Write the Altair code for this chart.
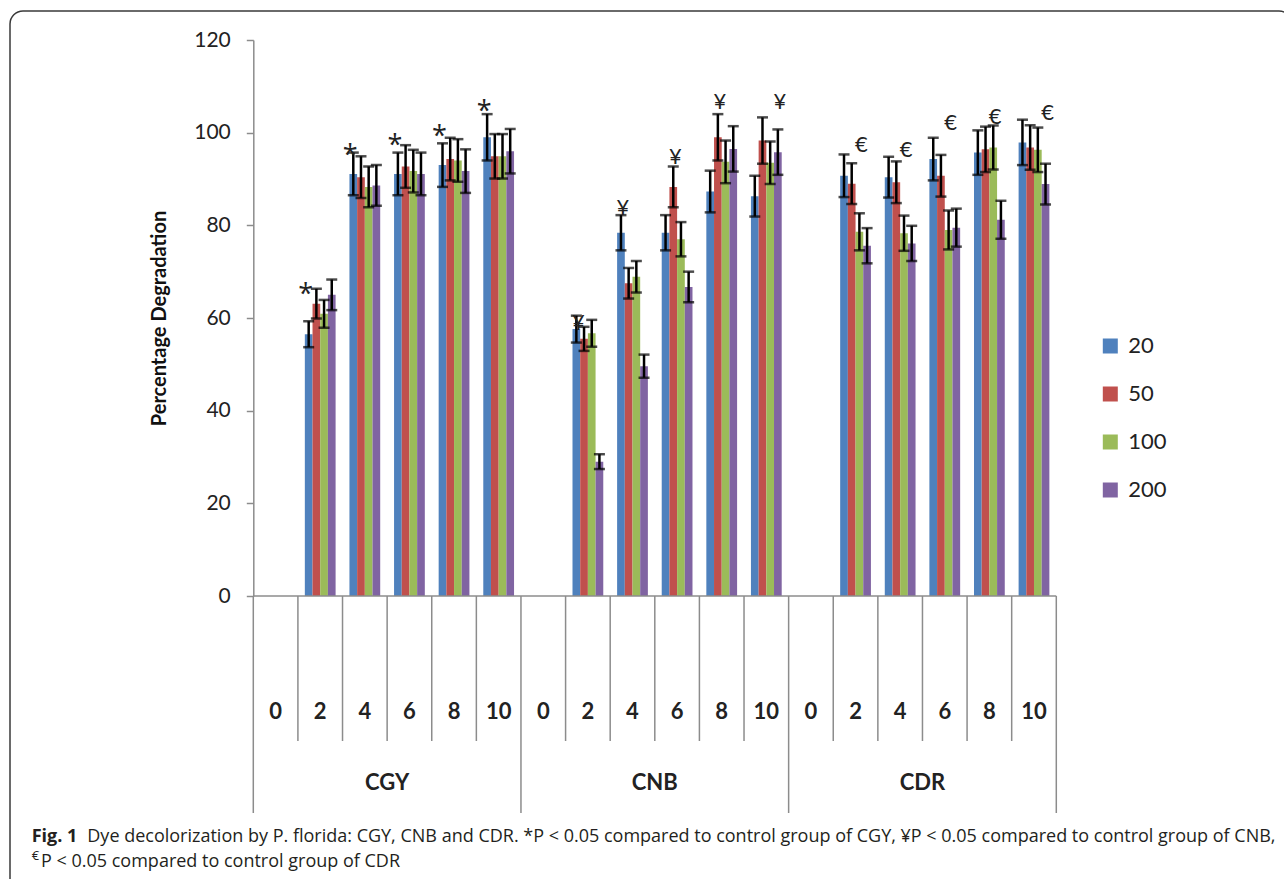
import altair as alt
import pandas as pd

# ---------------------------------------------------------------- data
groups = ["CGY", "CNB", "CDR"]
all_times = [0, 2, 4, 6, 8, 10]
sampled_times = [2, 4, 6, 8, 10]
concentrations = ["20", "50", "100", "200"]
bar_colors = ["#4F81BD", "#C0504D", "#9BBB59", "#8064A2"]

# mean percentage degradation, one value per sampled time
cgy_20 = [56.5, 91.1, 91.1, 93.0, 99.0]
cgy_50 = [63.1, 90.4, 92.7, 94.3, 94.9]
cgy_100 = [60.9, 88.3, 91.7, 94.0, 94.9]
cgy_200 = [65.0, 88.6, 91.1, 91.7, 96.0]

cnb_20 = [57.6, 78.4, 78.4, 87.3, 86.3]
cnb_50 = [55.5, 67.5, 88.3, 99.0, 98.3]
cnb_100 = [56.7, 68.9, 77.0, 93.7, 93.5]
cnb_200 = [29.0, 49.6, 66.7, 96.5, 95.8]

cdr_20 = [90.7, 90.4, 94.3, 95.7, 97.9]
cdr_50 = [89.0, 89.3, 90.7, 96.4, 96.8]
cdr_100 = [78.6, 78.3, 79.0, 96.8, 96.3]
cdr_200 = [75.6, 76.1, 79.5, 81.2, 88.9]

# error bar half-widths
cgy_20_err = [2.8, 4.6, 4.6, 4.7, 5.0]
cgy_50_err = [3.2, 4.5, 4.6, 4.6, 4.8]
cgy_100_err = [3.0, 4.4, 4.6, 4.6, 4.8]
cgy_200_err = [3.3, 4.4, 4.6, 4.7, 4.8]

cnb_20_err = [2.9, 3.8, 3.8, 4.5, 4.4]
cnb_50_err = [2.6, 3.3, 4.4, 5.0, 5.0]
cnb_100_err = [2.9, 3.4, 3.7, 4.6, 4.6]
cnb_200_err = [1.6, 2.5, 3.3, 4.9, 4.9]

cdr_20_err = [4.6, 4.4, 4.6, 4.8, 4.9]
cdr_50_err = [4.4, 4.5, 4.5, 4.9, 4.8]
cdr_100_err = [4.0, 3.8, 4.2, 4.75, 4.8]
cdr_200_err = [3.8, 3.8, 4.1, 4.1, 4.4]

# significance marks: symbol, bar it sits over, height on the y scale
sig_symbols = {"CGY": "*", "CNB": "\u00a5", "CDR": "\u20ac"}
cgy_sig_bar = ["20", "20", "20", "20", "20"]
cgy_sig_level = [66.7, 96.7, 98.9, 100.8, 106.2]
cnb_sig_bar = ["20", "20", "50", "50", "200"]
cnb_sig_level = [58.9, 83.7, 94.8, 106.7, 106.7]
cdr_sig_bar = ["100", "100", "100", "100", "200"]
cdr_sig_level = [97.3, 96.3, 102.1, 103.4, 104.3]

means = {
    "CGY": [cgy_20, cgy_50, cgy_100, cgy_200],
    "CNB": [cnb_20, cnb_50, cnb_100, cnb_200],
    "CDR": [cdr_20, cdr_50, cdr_100, cdr_200],
}
errors = {
    "CGY": [cgy_20_err, cgy_50_err, cgy_100_err, cgy_200_err],
    "CNB": [cnb_20_err, cnb_50_err, cnb_100_err, cnb_200_err],
    "CDR": [cdr_20_err, cdr_50_err, cdr_100_err, cdr_200_err],
}
sig_bars = {"CGY": cgy_sig_bar, "CNB": cnb_sig_bar, "CDR": cdr_sig_bar}
sig_levels = {"CGY": cgy_sig_level, "CNB": cnb_sig_level, "CDR": cdr_sig_level}

# ---------------------------------------------------------------- tables
def cat_key(g, t):
    return f"{g} {t}"

rows = []
for g in groups:
    for si, s in enumerate(concentrations):
        for ti, t in enumerate(sampled_times):
            v = means[g][si][ti]
            e = errors[g][si][ti]
            rows.append({"cat": cat_key(g, t), "series": s, "value": v,
                         "lo": v - e, "hi": v + e})
bars_df = pd.DataFrame(rows)

sig_rows = []
for g in groups:
    for ti, t in enumerate(sampled_times):
        sig_rows.append({"cat": cat_key(g, t), "series": sig_bars[g][ti],
                         "level": sig_levels[g][ti], "symbol": sig_symbols[g],
                         "group": g})
sig_df = pd.DataFrame(sig_rows)

cells_df = pd.DataFrame([
    {"cat": cat_key(g, t), "label": str(t), "first": t == all_times[0]}
    for g in groups for t in all_times
])
group_df = pd.DataFrame([{"cat": cat_key(g, 6), "group": g} for g in groups])
end_df = pd.DataFrame([{"cat": cat_key(groups[-1], all_times[-1])}])
one = pd.DataFrame([{"k": 0}])

# ---------------------------------------------------------------- layout
W, H = 803, 556
LEFT, TOP = 253.3, 40
FONT = "Lato"
GRID = "#8c8c8c"
INK = "#222222"

cat_domain = [cat_key(g, t) for g in groups for t in all_times]
x_scale = alt.Scale(domain=cat_domain, paddingInner=0, paddingOuter=0)
off_scale = alt.Scale(domain=concentrations, paddingInner=0, paddingOuter=0.9)
y_scale = alt.Scale(domain=[0, 120], nice=False)
y_axis = alt.Axis(
    values=[0, 20, 40, 60, 80, 100, 120], grid=False,
    domainColor=GRID, domainWidth=1.5, tickColor=GRID, tickWidth=1.5,
    tickSize=7, labelFont=FONT, labelFontSize=21, labelColor=INK,
    labelPadding=16, titleFont=FONT, titleFontSize=20,
    titleFontWeight="bold", titleColor="#111111", titlePadding=24,
)
Y_TITLE = "Percentage Degradation"


def xcat(**kw):
    return alt.X("cat:N", scale=x_scale, axis=None, **kw)


def xoff(field="series"):
    return alt.XOffset(f"{field}:N", scale=off_scale)


def ycol(field):
    return alt.Y(f"{field}:Q", scale=y_scale, axis=y_axis, title=Y_TITLE)


bars = alt.Chart(bars_df).mark_bar().encode(
    x=xcat(), xOffset=xoff(), y=ycol("value"),
    color=alt.Color(
        "series:N",
        scale=alt.Scale(domain=concentrations, range=bar_colors),
        legend=alt.Legend(
            orient="none", legendX=846, legendY=295, title=None,
            symbolType="square", symbolSize=225, symbolStrokeWidth=0,
            symbolOpacity=1, labelFont=FONT, labelFontSize=22,
            labelColor=INK, labelOffset=7, rowPadding=26, padding=0,
        ),
    ),
)

whisker = alt.Chart(bars_df).mark_rule(color="black", strokeWidth=2.5).encode(
    x=xcat(), xOffset=xoff(), y=ycol("lo"), y2="hi:Q"
)
cap_top = alt.Chart(bars_df).mark_tick(
    color="black", thickness=2.5, size=11, orient="horizontal"
).encode(x=xcat(), xOffset=xoff(), y=ycol("hi"))
cap_bottom = alt.Chart(bars_df).mark_tick(
    color="black", thickness=2.5, size=11, orient="horizontal"
).encode(x=xcat(), xOffset=xoff(), y=ycol("lo"))

stars = alt.Chart(sig_df).transform_filter(alt.datum.group == "CGY").mark_text(
    font="Open Sans", fontSize=27, color=INK, baseline="middle", dy=8, dx=-3
).encode(x=xcat(), xOffset=xoff(), y=ycol("level"), text="symbol:N")
currency = alt.Chart(sig_df).transform_filter(alt.datum.group != "CGY").mark_text(
    font=FONT, fontSize=22, color=INK, baseline="middle", dx=2
).encode(x=xcat(), xOffset=xoff(), y=ycol("level"), text="symbol:N")

# category table under the plot
baseline = alt.Chart(one).mark_rule(color=GRID, strokeWidth=1.5).encode(
    x=alt.value(0), x2=alt.value(W), y=alt.value(H)
)
inner_lines = alt.Chart(cells_df).transform_filter("!datum.first").mark_rule(
    color=GRID, strokeWidth=1.5
).encode(x=xcat(bandPosition=0), y=alt.value(H), y2=alt.value(H + 145))
group_lines = alt.Chart(cells_df).transform_filter("datum.first").mark_rule(
    color=GRID, strokeWidth=1.5
).encode(x=xcat(bandPosition=0), y=alt.value(H), y2=alt.value(H + 217))
end_line = alt.Chart(end_df).mark_rule(color=GRID, strokeWidth=1.5).encode(
    x=xcat(bandPosition=1), y=alt.value(H), y2=alt.value(H + 217)
)
time_labels = alt.Chart(cells_df).mark_text(
    font=FONT, fontSize=22, fontWeight="bold", color=INK, baseline="middle"
).encode(x=xcat(), y=alt.value(H + 116), text="label:N")
group_labels = alt.Chart(group_df).mark_text(
    font=FONT, fontSize=22, fontWeight="bold", color=INK, baseline="middle"
).encode(x=xcat(bandPosition=0), y=alt.value(H + 187), text="group:N")

# figure frame and caption
frame = alt.Chart(one).mark_rect(
    fill="transparent", stroke="#3a3a3a", strokeWidth=1.5, cornerRadius=13
).encode(
    x=alt.value(10 - LEFT), x2=alt.value(1292 - LEFT),
    y=alt.value(11 - TOP), y2=alt.value(895 - TOP),
)
CAP_FONT = "Open Sans"
CAP_SIZE = 18
CAP_INK = "#231f20"
cap1_y = 836.7 - TOP
cap2_y = 861.7 - TOP
fig_label = alt.Chart(one).mark_text(
    font=CAP_FONT, fontSize=CAP_SIZE, fontWeight="bold", color=CAP_INK,
    align="left", baseline="middle"
).encode(x=alt.value(31.7 - LEFT), y=alt.value(cap1_y), text=alt.value("Fig. 1"))
caption1 = alt.Chart(one).mark_text(
    font=CAP_FONT, fontSize=CAP_SIZE, color=CAP_INK, align="left",
    baseline="middle"
).encode(
    x=alt.value(87.3 - LEFT), y=alt.value(cap1_y),
    text=alt.value(
        "Dye decolorization by P. florida: CGY, CNB and CDR. *P < 0.05 compared "
        "to control group of CGY, \u00a5P < 0.05 compared to control group of CNB,"
    ),
)
euro_sup = alt.Chart(one).mark_text(
    font=CAP_FONT, fontSize=13, color=CAP_INK, align="left", baseline="middle"
).encode(x=alt.value(31.7 - LEFT), y=alt.value(cap2_y - 6), text=alt.value("\u20ac"))
caption2 = alt.Chart(one).mark_text(
    font=CAP_FONT, fontSize=CAP_SIZE, color=CAP_INK, align="left",
    baseline="middle"
).encode(
    x=alt.value(41.0 - LEFT), y=alt.value(cap2_y),
    text=alt.value("P < 0.05 compared to control group of CDR"),
)

chart = alt.layer(
    frame, bars, whisker, cap_top, cap_bottom, stars, currency,
    baseline, inner_lines, group_lines, end_line, time_labels, group_labels,
    fig_label, caption1, euro_sup, caption2,
).properties(
    width=W, height=H,
    autosize=alt.AutoSizeParams(type="none"),
    padding={"left": LEFT, "top": TOP, "right": 1284 - LEFT - W,
             "bottom": 879 - TOP - H},
    background="white",
).configure_view(strokeWidth=0)

chart.save("out.html", embed_options={"renderer": "svg", "actions": False})
